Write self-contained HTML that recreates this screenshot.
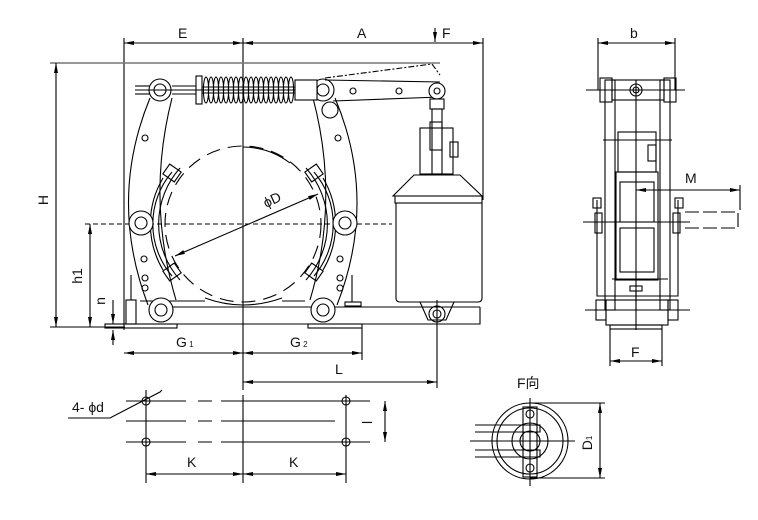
<!DOCTYPE html>
<html><head><meta charset="utf-8"><style>
html,body{margin:0;padding:0;background:#fff;}
svg{display:block;}
text{font-family:"Liberation Sans","Noto Sans CJK SC",sans-serif;font-size:14px;fill:#111;}
</style></head><body>
<svg width="758" height="520" viewBox="0 0 758 520" xmlns="http://www.w3.org/2000/svg">
<defs>
<marker id="a" markerWidth="10" markerHeight="6" refX="10" refY="3" orient="auto-start-reverse" markerUnits="userSpaceOnUse"><path d="M0,1 L10,3 L0,5 z" fill="#000"/></marker>
</defs>
<g stroke="#000" stroke-width="1.1" fill="none">
<!-- top dims -->
<line x1="124" y1="38" x2="124" y2="330"/>
<line x1="243" y1="38" x2="243" y2="390"/>
<line x1="483" y1="38" x2="483" y2="200"/>
<line x1="124" y1="43" x2="243" y2="43" marker-start="url(#a)" marker-end="url(#a)"/>
<line x1="243" y1="43" x2="483" y2="43" marker-start="url(#a)" marker-end="url(#a)"/>
<line x1="435" y1="28" x2="435" y2="42" marker-end="url(#a)"/>
<!-- H line -->
<line x1="50" y1="63" x2="440" y2="63" stroke="#777" stroke-width="1.5"/>
<line x1="56" y1="63" x2="56" y2="327" marker-start="url(#a)" marker-end="url(#a)"/>
<line x1="50" y1="327" x2="125" y2="327"/>
<line x1="85" y1="224" x2="392" y2="224" stroke-dasharray="5,3"/>
<line x1="90" y1="224" x2="90" y2="327" marker-start="url(#a)" marker-end="url(#a)"/>
<line x1="113" y1="300" x2="113" y2="324" marker-end="url(#a)"/>
<line x1="113" y1="345" x2="113" y2="330" marker-end="url(#a)"/>
<!-- base -->
<path d="M140,301 Q200,301 205,301 M282,301 H305 M170,307 H480 M150,324 H480 V307"/>
<rect x="105" y="324" width="72" height="4"/>
<rect x="308" y="324" width="54" height="4"/>
<line x1="124" y1="353" x2="243" y2="353" marker-start="url(#a)" marker-end="url(#a)"/>
<line x1="243" y1="353" x2="362" y2="353" marker-start="url(#a)" marker-end="url(#a)"/>
<line x1="362" y1="328" x2="362" y2="360"/>
<line x1="437" y1="300" x2="437" y2="388"/>
<line x1="243" y1="382" x2="437" y2="382" marker-start="url(#a)" marker-end="url(#a)"/>
<!-- drum -->
<path d="M243,147 A78,78 0 0 1 290,163" />
<circle cx="243" cy="224" r="78" stroke-dasharray="14,8"/>
<path d="M205,298 Q243,312 282,298"/>
<line x1="175" y1="256" x2="318" y2="194" marker-start="url(#a)" marker-end="url(#a)"/>
<!-- shoes -->
<path d="M172,172 A80,80 0 0 0 172,276 M180,168 A84,84 0 0 0 180,280 M163,178 A90,90 0 0 0 163,270"/>
<path d="M314,172 A80,80 0 0 1 314,276 M306,168 A84,84 0 0 1 306,280 M323,178 A90,90 0 0 1 323,270"/>
<rect x="165" y="167" width="14" height="12" transform="rotate(35 172 173)"/>
<rect x="165" y="266" width="14" height="12" transform="rotate(-35 172 272)"/>
<rect x="307" y="167" width="14" height="12" transform="rotate(-35 314 173)"/>
<rect x="307" y="266" width="14" height="12" transform="rotate(35 314 272)"/>
<!-- arms -->
<path d="M150,98 Q108,200 148,305 M172,98 Q146,200 176,300"/>
<path d="M335,98 Q378,200 337,305 M313,98 Q340,200 310,300"/>
<circle cx="160" cy="90" r="11" fill="#fff"/><circle cx="160" cy="90" r="6"/>
<circle cx="323" cy="90" r="11" fill="#fff"/><circle cx="323" cy="90" r="6"/>
<circle cx="330" cy="110" r="8"/>
<circle cx="141" cy="223" r="12" fill="#fff"/><circle cx="141" cy="223" r="6"/>
<circle cx="345" cy="223" r="12" fill="#fff"/><circle cx="345" cy="223" r="6"/>
<circle cx="161" cy="310" r="12" fill="#fff"/><circle cx="161" cy="310" r="6"/>
<circle cx="323" cy="310" r="12" fill="#fff"/><circle cx="323" cy="310" r="6"/>
<circle cx="145" cy="138" r="3"/><circle cx="338" cy="138" r="3"/>
<circle cx="144" cy="259" r="3"/><circle cx="145" cy="278" r="3"/><circle cx="145" cy="288" r="3"/>
<circle cx="340" cy="259" r="3"/><circle cx="340" cy="278" r="3"/><circle cx="340" cy="288" r="3"/>
<rect x="126" y="300" width="10" height="24"/><line x1="131" y1="275" x2="131" y2="300"/>
<line x1="352" y1="275" x2="352" y2="302"/><rect x="345" y="302" width="16" height="4"/>
<!-- spring -->
<line x1="135" y1="90" x2="318" y2="90"/>
<line x1="135" y1="86" x2="150" y2="86"/><line x1="135" y1="94" x2="150" y2="94"/>
<line x1="172" y1="86" x2="196" y2="86"/><line x1="172" y1="94" x2="196" y2="94"/>
<rect x="196" y="76" width="6" height="28"/>
<g>
<ellipse cx="206" cy="90" rx="2.6" ry="13"/><ellipse cx="211" cy="90" rx="2.6" ry="13"/><ellipse cx="216" cy="90" rx="2.6" ry="13"/><ellipse cx="221" cy="90" rx="2.6" ry="13"/><ellipse cx="226" cy="90" rx="2.6" ry="13"/><ellipse cx="231" cy="90" rx="2.6" ry="13"/><ellipse cx="236" cy="90" rx="2.6" ry="13"/><ellipse cx="241" cy="90" rx="2.6" ry="13"/><ellipse cx="246" cy="90" rx="2.6" ry="13"/><ellipse cx="251" cy="90" rx="2.6" ry="13"/><ellipse cx="256" cy="90" rx="2.6" ry="13"/><ellipse cx="261" cy="90" rx="2.6" ry="13"/><ellipse cx="266" cy="90" rx="2.6" ry="13"/><ellipse cx="271" cy="90" rx="2.6" ry="13"/><ellipse cx="276" cy="90" rx="2.6" ry="13"/><ellipse cx="281" cy="90" rx="2.6" ry="13"/><ellipse cx="286" cy="90" rx="2.6" ry="13"/><ellipse cx="291" cy="90" rx="2.6" ry="13"/>
</g>
<line x1="202" y1="87" x2="296" y2="87"/><line x1="202" y1="93" x2="296" y2="93"/>
<rect x="295" y="80" width="22" height="20" fill="#fff"/>
<!-- lever -->
<path d="M325,80 L440,82 M333,101 L440,97"/>
<path d="M325,78 L432,64 L440,75" stroke-dasharray="6,2,2,2"/>
<circle cx="437" cy="91" r="8" fill="#fff"/><circle cx="437" cy="91" r="3"/>
<circle cx="353" cy="91" r="3"/><circle cx="399" cy="91" r="3"/>
<!-- thruster -->
<rect x="430" y="99" width="14" height="10"/>
<rect x="432" y="109" width="10" height="65"/>
<rect x="430" y="122" width="12" height="28"/>
<rect x="420" y="128" width="33" height="46"/>
<rect x="450" y="142" width="8" height="15"/>
<path d="M414,175 H460 L482,196 H393 Z"/>
<rect x="395" y="196" width="87" height="7"/>
<path d="M396,203 V298 Q396,302 400,302 H478 Q482,302 482,298 V203"/>
<path d="M420,302 L428,320 H446 L454,302"/>
<circle cx="437" cy="314" r="8"/><circle cx="437" cy="314" r="4"/>
<!-- side view -->
<line x1="598" y1="38" x2="598" y2="90"/><line x1="675" y1="38" x2="675" y2="90"/>
<line x1="598" y1="43" x2="675" y2="43" marker-start="url(#a)" marker-end="url(#a)"/>
<line x1="586" y1="90" x2="685" y2="90"/>
<rect x="600" y="78" width="12" height="24"/><rect x="664" y="78" width="12" height="24"/>
<rect x="612" y="80" width="52" height="20"/><circle cx="636" cy="90" r="6"/><circle cx="636" cy="90" r="3"/>
<rect x="605" y="80" width="10" height="230"/><rect x="660" y="80" width="10" height="230"/>
<rect x="618" y="132" width="38" height="40"/><rect x="648" y="145" width="8" height="16"/>
<line x1="603" y1="140" x2="672" y2="140"/>
<rect x="616" y="172" width="42" height="108"/>
<rect x="620" y="182" width="34" height="40"/><rect x="620" y="228" width="34" height="44"/>
<path d="M597,200 V296 H678 V200"/>
<rect x="593" y="198" width="8" height="10"/><rect x="675" y="198" width="8" height="10"/>
<line x1="583" y1="222" x2="690" y2="222"/>
<rect x="595" y="213" width="7" height="20"/><rect x="673" y="213" width="7" height="20"/>
<path d="M685,212 H738 V228 H685" stroke-dasharray="14,4"/>
<line x1="636" y1="80" x2="636" y2="330"/>
<line x1="636" y1="190" x2="740" y2="190" marker-start="url(#a)" marker-end="url(#a)"/>
<line x1="740" y1="185" x2="740" y2="210"/>
<line x1="612" y1="279" x2="668" y2="279"/>
<rect x="630" y="286" width="12" height="5"/><line x1="636" y1="291" x2="636" y2="310"/>
<line x1="585" y1="310" x2="690" y2="310"/>
<rect x="596" y="300" width="10" height="20"/><rect x="668" y="300" width="10" height="20"/>
<rect x="606" y="300" width="62" height="25"/>
<rect x="610" y="325" width="52" height="4"/>
<line x1="610" y1="329" x2="610" y2="366"/><line x1="662" y1="329" x2="662" y2="366"/>
<line x1="610" y1="361" x2="662" y2="361" marker-start="url(#a)" marker-end="url(#a)"/>
<!-- bottom hole layout -->
<path d="M126,401 H186 M198,401 H212 M221,401 H370 M126,421 H186 M198,421 H212 M221,421 H335 M126,442 H186 M198,442 H212 M221,442 H370"/>
<circle cx="146" cy="401" r="4"/><circle cx="146" cy="442" r="4"/>
<circle cx="346" cy="401" r="4"/><circle cx="346" cy="442" r="4"/>
<line x1="146" y1="390" x2="146" y2="483"/><line x1="346" y1="395" x2="346" y2="483"/>
<line x1="243" y1="395" x2="243" y2="483"/>
<line x1="146" y1="474" x2="243" y2="474" marker-start="url(#a)" marker-end="url(#a)"/>
<line x1="243" y1="474" x2="346" y2="474" marker-start="url(#a)" marker-end="url(#a)"/>
<line x1="385" y1="401" x2="385" y2="442" marker-start="url(#a)" marker-end="url(#a)"/>
<path d="M68,418 H110 L160,392 L162,390"/>
<!-- F view -->
<circle cx="530" cy="441" r="38"/><circle cx="530" cy="441" r="33"/>
<circle cx="530" cy="441" r="18"/><circle cx="530" cy="441" r="10"/>
<rect x="523" y="407" width="14" height="70"/>
<circle cx="530" cy="414" r="4"/><circle cx="530" cy="468" r="4"/>
<path d="M475,425 H540 V432 H475 M475,450 H540 V457 H475"/>
<line x1="470" y1="441" x2="575" y2="441"/>
<line x1="530" y1="398" x2="530" y2="486"/>
<line x1="530" y1="403" x2="605" y2="403"/><line x1="530" y1="478" x2="605" y2="478"/>
<line x1="600" y1="403" x2="600" y2="478" marker-start="url(#a)" marker-end="url(#a)"/>
</g>
<text x="178" y="38">E</text>
<text x="357" y="38">A</text>
<text x="442" y="38">F</text>
<text x="48" y="200" transform="rotate(-90 48 200)" text-anchor="middle">H</text>
<text x="82" y="276" transform="rotate(-90 82 276)" text-anchor="middle">h1</text>
<text x="105" y="301" transform="rotate(-90 105 301)" text-anchor="middle">n</text>
<text x="266" y="208" transform="rotate(-25 266 208)">ϕD</text>
<text x="176" y="347">G<tspan font-size="8"> 1</tspan></text>
<text x="290" y="347">G<tspan font-size="8"> 2</tspan></text>
<text x="335" y="374">L</text>
<text x="630" y="38">b</text>
<text x="685" y="183">M</text>
<text x="631" y="357">F</text>
<text x="72" y="412">4- ϕd</text>
<text x="187" y="467">K</text>
<text x="289" y="467">K</text>
<text x="372" y="424" transform="rotate(-90 372 424)">l</text>
<text x="517" y="388" font-size="12">F向</text>
<text x="592" y="443" transform="rotate(-90 592 443)" text-anchor="middle">D<tspan font-size="8">1</tspan></text>
</svg>
</body></html>
